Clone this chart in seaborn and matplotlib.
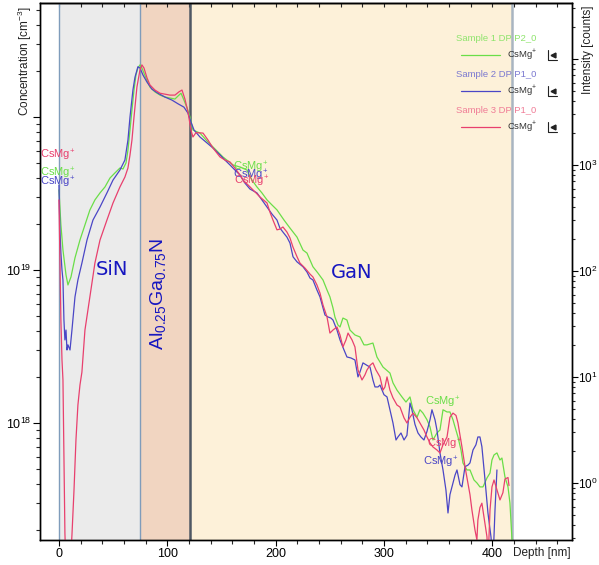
import matplotlib
matplotlib.use("Agg")
import matplotlib.pyplot as plt
import seaborn as sns
import pandas as pd
import math
from matplotlib.lines import Line2D
from matplotlib.ticker import FixedLocator, LogLocator, FuncFormatter, NullFormatter

sns.set_theme(style="white")
plt.rcParams['font.family'] = ['Liberation Sans', 'DejaVu Sans']
plt.rcParams['mathtext.fontset'] = 'custom'
plt.rcParams['mathtext.rm'] = 'Liberation Sans'
plt.rcParams['mathtext.it'] = 'Liberation Sans:italic'
plt.rcParams['mathtext.bf'] = 'Liberation Sans:bold'

# ---------------- data ----------------
sample_names = ["Sample 1 DP P2_0", "Sample 2 DP P1_0", "Sample 3 DP P1_0"]
species = "CsMg$^{+}$"

depth_s1 = [0, 1.8, 3.7, 6.5, 8.3, 11.1, 14.8, 19.4, 24.0, 28.6,
            33.2, 37.9, 42.5, 47.1, 51.7, 56.3, 59.1, 61.9, 63.7, 65.6,
            67.4, 69.3, 71.1, 72.9, 74.8, 76.6, 80.3, 84.0, 88.6, 93.3,
            97.9, 102.5, 107.1, 109.9, 112.7, 115.4, 118.2, 121.0, 123.7, 130.2,
            136.7, 142.2, 151.4, 160.7, 167.1, 173.6, 178.2, 182.8, 187.4, 192.1,
            196.7, 201.3, 207.8, 213.3, 219.8, 225.3, 229.0, 234.5, 239.1, 243.8,
            247.5, 250.2, 253.0, 254.8, 257.6, 259.5, 262.2, 265.9, 268.7, 273.3,
            277.9, 281.6, 284.4, 289.9, 293.6, 299.2, 305.6, 308.4, 312.1, 316.7,
            320.4, 324.1, 326.9, 330.6, 333.3, 336.1, 339.8, 342.6, 345.3, 349.0,
            351.8, 354.6, 358.3, 361.0, 363.8, 365.7, 368.4, 371.2, 373.0, 376.7,
            379.5, 383.2, 386.0, 388.7, 391.5, 395.2, 398.0, 399.8, 401.7, 404.4,
            407.2, 409.0, 411.8, 414.6, 416.4, 418.3, 419.2]
conc_s1 = [3.34e19, 1.97e19, 1.35e19, 9.3e18, 7.98e18, 9.0e18, 1.20e19, 1.57e19, 1.97e19, 2.47e19,
           2.87e19, 3.19e19, 3.49e19, 3.99e19, 4.31e19, 4.64e19, 4.57e19, 5.0e19, 6.08e19, 8.22e19,
           1.11e20, 1.50e20, 1.88e20, 2.09e20, 2.19e20, 2.09e20, 1.80e20, 1.57e20, 1.46e20, 1.39e20,
           1.35e20, 1.33e20, 1.31e20, 1.37e20, 1.43e20, 1.29e20, 1.15e20, 1.0e20, 8.22e19, 7.85e19,
           6.97e19, 6.37e19, 5.48e19, 4.86e19, 4.71e19, 4.50e19, 3.87e19, 3.49e19, 3.19e19, 2.87e19,
           2.66e19, 2.47e19, 2.12e19, 1.88e19, 1.64e19, 1.35e19, 1.29e19, 1.05e19, 9.55e18, 8.6e18,
           7.4e18, 6.67e18, 5.65e18, 4.93e18, 4.37e18, 4.24e18, 4.85e18, 4.71e18, 4.05e18, 3.76e18,
           3.65e18, 3.24e18, 3.24e18, 3.33e18, 2.70e18, 2.32e18, 2.12e18, 1.83e18, 1.64e18, 1.48e18,
           1.37e18, 1.48e18, 1.22e18, 1.09e18, 1.22e18, 1.16e18, 1.05e18, 9.42e17, 7.74e17, 8.6e17,
           9.0e17, 1.22e18, 1.18e18, 1.18e18, 1.05e18, 9.42e17, 8.1e17, 6.66e17, 5.48e17, 4.93e17,
           4.93e17, 4.24e17, 4.05e17, 3.82e17, 3.82e17, 4.37e17, 4.71e17, 5.73e17, 6.18e17, 6.37e17,
           5.73e17, 5.9e17, 4.44e17, 3.82e17, 3.0e17, 1.72e17, 1.2e17]

depth_s2 = [0, 0.9, 1.8, 2.8, 3.7, 4.6, 5.5, 6.5, 7.4, 8.3,
            10.2, 12.0, 14.8, 17.5, 21.2, 25.9, 31.4, 37.9, 44.3, 49.9,
            56.3, 60.9, 63.7, 65.6, 68.3, 70.2, 72.9, 74.8, 77.6, 81.3,
            85.9, 91.4, 97.9, 104.3, 109.9, 115.4, 119.1, 121.9, 124.7, 130.2,
            136.7, 142.2, 148.7, 153.3, 157.9, 162.5, 167.1, 171.7, 176.4, 182.8,
            187.4, 192.1, 196.7, 201.3, 204.0, 206.8, 210.5, 213.3, 216.1, 219.8,
            222.5, 225.3, 229.0, 231.8, 234.5, 238.2, 241.0, 243.8, 245.6, 248.4,
            251.1, 253.0, 256.7, 259.5, 263.2, 265.9, 269.6, 273.3, 276.1, 277.9,
            280.7, 284.4, 287.2, 289.9, 291.8, 294.6, 296.4, 300.1, 302.9, 305.6,
            308.4, 311.2, 313.0, 315.8, 318.6, 321.3, 324.1, 325.9, 328.7, 331.5,
            334.2, 337.0, 339.8, 342.6, 344.4, 347.2, 349.0, 351.8, 354.6, 357.3,
            359.2, 361.0, 362.9, 365.7, 367.5, 370.3, 372.1, 374.9, 377.6, 379.5,
            382.3, 385.0, 386.8, 388.7, 390.5, 393.4, 396.1, 398.9, 400.7, 402.6,
            404.4]
conc_s2 = [3.59e19, 1.83e19, 1.29e19, 1.0e19, 8.6e18, 4.71e18, 3.49e18, 4.05e18, 3.0e18, 3.24e18,
           3.0e18, 4.05e18, 6.67e18, 8.6e18, 1.11e19, 1.57e19, 2.12e19, 2.58e19, 3.19e19, 3.87e19,
           4.50e19, 5.23e19, 7.07e19, 1.0e20, 1.50e20, 1.82e20, 2.13e20, 2.09e20, 1.88e20, 1.69e20,
           1.52e20, 1.43e20, 1.35e20, 1.29e20, 1.22e20, 1.16e20, 1.06e20, 9.27e19, 8.22e19, 7.40e19,
           6.76e19, 6.27e19, 5.65e19, 5.23e19, 4.86e19, 4.50e19, 4.18e19, 3.70e19, 3.38e19, 3.19e19,
           2.87e19, 2.58e19, 2.32e19, 2.12e19, 1.88e19, 1.77e19, 1.64e19, 1.50e19, 1.22e19, 1.13e19,
           1.09e19, 1.05e19, 9.7e18, 8.86e18, 8.6e18, 7.4e18, 6.67e18, 5.65e18, 5.08e18, 4.93e18,
           4.85e18, 4.71e18, 4.05e18, 3.49e18, 3.0e18, 2.70e18, 2.66e18, 2.58e18, 2.0e18, 2.15e18,
           2.47e18, 2.38e18, 2.32e18, 1.91e18, 1.72e18, 1.72e18, 1.77e18, 1.53e18, 1.48e18, 1.22e18,
           1.0e18, 7.74e17, 8.1e17, 8.6e17, 7.74e17, 8.3e17, 1.35e18, 1.22e18, 9.8e17, 8.6e17,
           8.1e17, 7.74e17, 8.8e17, 1.05e18, 1.22e18, 1.05e18, 9.0e17, 6.37e17, 4.93e17, 3.65e17,
           2.58e17, 3.4e17, 3.82e17, 4.56e17, 4.93e17, 3.95e17, 3.82e17, 5.18e17, 5.3e17, 5.48e17,
           6.66e17, 7.2e17, 8.1e17, 8.1e17, 7.0e17, 4.24e17, 2.58e17, 1.8e17, 1.2e17, 2.70e17,
           4.93e17]

depth_s3 = [0, 0.9, 1.8, 2.8, 3.7, 4.6, 5.5, 6.5, 10.2, 12.0,
            13.9, 15.7, 17.5, 19.4, 21.2, 24.0, 28.6, 33.2, 37.9, 44.3,
            49.9, 56.3, 60.9, 63.7, 65.6, 67.4, 69.3, 72.0, 74.8, 76.6,
            78.5, 81.3, 84.0, 88.6, 93.3, 97.9, 102.5, 107.1, 110.8, 113.6,
            116.3, 119.1, 121.9, 123.7, 126.5, 133.0, 137.6, 142.2, 148.7, 153.3,
            157.9, 162.5, 167.1, 169.9, 174.5, 181.0, 185.6, 192.1, 194.8, 197.6,
            201.3, 204.0, 206.8, 210.5, 213.3, 216.1, 219.8, 222.5, 227.1, 231.8,
            234.5, 238.2, 241.0, 243.8, 247.5, 250.2, 253.0, 256.7, 259.5, 262.2,
            265.0, 266.9, 270.6, 273.3, 276.1, 279.8, 282.5, 284.4, 287.2, 289.9,
            292.7, 296.4, 299.2, 301.0, 302.9, 305.6, 308.4, 312.1, 314.9, 318.6,
            321.3, 324.1, 326.9, 330.6, 333.3, 337.0, 339.8, 342.6, 345.3, 349.0,
            351.8, 354.6, 358.3, 361.0, 363.8, 366.6, 368.4, 370.3, 372.1, 374.9,
            377.6, 379.5, 381.3, 384.1, 385.9, 386.8, 388.7, 390.5, 393.4, 395.2,
            396.1, 398.0, 399.8, 401.7, 404.4, 407.2, 409.9, 411.8, 414.6, 415.5]
conc_s3 = [2.87e19, 1.16e19, 4.71e18, 2.58e18, 1.91e18, 5.73e17, 1.91e17, 1.1e17, 1.1e17, 1.85e17,
           3.65e17, 7.74e17, 1.31e18, 1.77e18, 2.15e18, 4.05e18, 6.67e18, 1.11e19, 1.57e19, 2.12e19,
           2.74e19, 3.49e19, 4.05e19, 4.64e19, 5.65e19, 7.07e19, 1.0e20, 1.57e20, 2.03e20, 2.19e20,
           2.09e20, 1.80e20, 1.62e20, 1.50e20, 1.43e20, 1.41e20, 1.39e20, 1.39e20, 1.46e20, 1.50e20,
           1.31e20, 1.08e20, 8.22e19, 7.40e19, 7.9e19, 7.85e19, 7.07e19, 6.27e19, 5.48e19, 5.23e19,
           5.08e19, 4.64e19, 4.18e19, 3.87e19, 3.60e19, 3.24e19, 3.0e19, 2.74e19, 2.39e19, 2.12e19,
           1.83e19, 1.85e19, 1.91e19, 1.77e19, 1.62e19, 1.41e19, 1.22e19, 1.11e19, 1.03e19, 9.4e18,
           9.0e18, 7.98e18, 7.07e18, 5.9e18, 4.93e18, 3.87e18, 4.05e18, 4.24e18, 3.76e18, 3.14e18,
           3.49e18, 3.87e18, 3.49e18, 3.14e18, 2.22e18, 1.91e18, 2.06e18, 2.22e18, 2.38e18, 2.47e18,
           2.22e18, 2.0e18, 1.64e18, 1.72e18, 2.0e18, 1.64e18, 1.46e18, 1.31e18, 1.27e18, 1.08e18,
           1.0e18, 1.09e18, 1.16e18, 1.08e18, 1.0e18, 9.0e17, 8.1e17, 7.4e17, 6.97e17, 6.66e17,
           6.37e17, 7.2e17, 8.1e17, 1.09e18, 1.16e18, 1.12e18, 1.0e18, 8.3e17, 6.97e17, 5.18e17,
           4.05e17, 3.4e17, 2.7e17, 2.0e17, 1.72e17, 2.32e17, 2.8e17, 2.99e17, 2.2e17, 1.8e17,
           1.2e17, 2.7e17, 3.82e17, 4.24e17, 3.65e17, 3.14e17, 3.5e17, 4.3e17, 4.4e17, 3.9e17]

layer_names = ["SiN", "Al$_{0.25}$Ga$_{0.75}$N", "GaN"]
layer_edges = [0, 74.8, 121.0, 418.3]
x_major = [0, 100, 200, 300, 400]

# ---------------- styling ----------------
line_colors = ["#6ade48", "#4a46c6", "#e8406e"]
text_colors = ["#8ee46c", "#7a78d0", "#f07c96"]
layer_colors = ["#ebebeb", "#f1d5c1", "#fdf1d9"]
label_blue = "#1616c0"

W, H = 599, 565
def fx(px):
    return px / W
def fy(py):
    return 1 - py / H

def pow10_label(v, p, limit):
    if v >= limit:
        return ""
    return "$10^{%d}$" % round(math.log10(v))

fig = plt.figure(figsize=(W / 100, H / 100), dpi=100)
fig.patch.set_facecolor("white")
ax = fig.add_axes([fx(40), fy(540), (572 - 40) / W, (540 - 3) / H])
ax.set_facecolor("white")
ax.set_yscale("log")

# layer backgrounds
for i in range(3):
    ax.axvspan(layer_edges[i], layer_edges[i + 1], color=layer_colors[i], zorder=0, lw=0)
ax.axvline(layer_edges[0], color="#7f9cbb", lw=1.0, zorder=1)
ax.axvline(layer_edges[1], color="#7f9cbb", lw=1.0, zorder=1)
ax.axvline(layer_edges[2], color="#4f5864", lw=1.8, zorder=1)
ax.axvline(layer_edges[3], color="#a9b5c1", lw=1.8, zorder=1)

# data
frames = []
for name, d, c in zip(sample_names, [depth_s1, depth_s2, depth_s3], [conc_s1, conc_s2, conc_s3]):
    frames.append(pd.DataFrame({"depth": d, "conc": c, "sample": name}))
df = pd.concat(frames, ignore_index=True)
sns.lineplot(data=df, x="depth", y="conc", hue="sample", hue_order=sample_names,
             palette=dict(zip(sample_names, line_colors)), estimator=None, sort=False,
             linewidth=0.9, legend=False, ax=ax, zorder=3)

ax.set_xlim(-17.5, 473.7)
ax.set_ylim(1.718e17, 5.56e20)
ax.set_xlabel("")
ax.set_ylabel("")

# ticks
ax.xaxis.set_major_locator(FixedLocator(x_major))
ax.xaxis.set_minor_locator(FixedLocator(list(range(0, 461, 20))))
ax.xaxis.set_minor_formatter(NullFormatter())
ax.yaxis.set_major_locator(FixedLocator([1e18, 1e19, 1e20]))
ax.yaxis.set_major_formatter(FuncFormatter(lambda v, p: pow10_label(v, p, 1e20)))
ax.yaxis.set_minor_locator(LogLocator(base=10, subs=range(2, 10), numticks=20))
ax.yaxis.set_minor_formatter(NullFormatter())
ax.tick_params(axis="x", which="major", direction="out", length=4, width=0.8,
               labelsize=9, pad=2, colors="black", bottom=True)
ax.tick_params(axis="x", which="minor", direction="out", length=3, width=0.8, bottom=True)
ax.tick_params(axis="y", which="major", direction="out", length=5, width=0.8,
               labelsize=9, pad=1, colors="black", left=True)
ax.tick_params(axis="y", which="minor", direction="out", length=3, width=0.8, left=True)
for s in ax.spines.values():
    s.set_color("black")
    s.set_linewidth(1.0)

# top ticks (inward)
top = ax.secondary_xaxis("top")
top.xaxis.set_major_locator(FixedLocator(list(range(0, 461, 20))))
top.tick_params(axis="x", direction="in", length=3, width=0.8, labeltop=False)
top.spines["top"].set_linewidth(1.0)

# right axis
ax2 = ax.twinx()
ax2.set_yscale("log")
ax2.set_ylim(0.29, 3.38e4)
ax2.yaxis.set_major_locator(FixedLocator([1, 10, 100, 1000, 10000]))
ax2.yaxis.set_major_formatter(FuncFormatter(lambda v, p: pow10_label(v, p, 1e4)))
ax2.yaxis.set_minor_locator(LogLocator(base=10, subs=range(2, 10), numticks=20))
ax2.yaxis.set_minor_formatter(NullFormatter())
ax2.tick_params(axis="y", which="major", direction="out", length=4, width=0.8,
                labelsize=8.5, pad=0.5, colors="black", right=True)
ax2.tick_params(axis="y", which="minor", direction="out", length=2.5, width=0.8, right=True)
ax2.grid(False)
for s in ax2.spines.values():
    s.set_color("black")
    s.set_linewidth(1.0)

# axis titles
fig.text(fx(25), fy(6), "Concentration [cm$^{-3}$]", rotation=90, ha="center", va="top",
         fontsize=8.5, color="#222222")
fig.text(fx(588), fy(5), "Intensity [counts]", rotation=90, ha="center", va="top",
         fontsize=8.5, color="#222222")
fig.text(fx(513), fy(553), "Depth [nm]", ha="left", va="center", fontsize=8.5, color="#222222")

# layer labels
ax.text(49, 1.0e19, layer_names[0], color=label_blue, fontsize=14, ha="center", va="center",
        family="DejaVu Sans", zorder=4)
ax.text(91, 7.0e18, layer_names[1], color=label_blue, fontsize=14, ha="center", va="center",
        rotation=90, zorder=4)
ax.text(270.5, 9.7e18, layer_names[2], color=label_blue, fontsize=14, ha="center", va="center",
        family="DejaVu Sans", zorder=4)

# species labels next to curves
label_pos = [
    [(-17.3, 4.3e19), (160.7, 4.7e19), (338.0, 1.37e18)],
    [(-17.3, 3.71e19), (160.7, 4.15e19), (336.0, 5.56e17)],
    [(-17.3, 5.65e19), (161.5, 3.8e19), (340.0, 7.2e17)],
]
for col, poslist in zip(line_colors, label_pos):
    for (xx, yy) in poslist:
        ax.text(xx, yy, species, color=col, fontsize=8, ha="left", va="center", zorder=5)

# custom legend
for i, (name, lc, tc) in enumerate(zip(sample_names, line_colors, text_colors)):
    ty = 38.5 + 36 * i
    ly = 54.5 + 36 * i
    fig.text(fx(456), fy(ty), name, color=tc, fontsize=6.8, ha="left", va="center")
    fig.add_artist(Line2D([fx(461), fx(500)], [fy(ly), fy(ly)], color=lc, lw=0.9))
    fig.text(fx(507), fy(ly), species, color="#333333", fontsize=6.8, ha="left", va="center")
    fig.add_artist(Line2D([fx(548), fx(548), fx(557)], [fy(ly - 5), fy(ly + 5), fy(ly + 5)],
                          color="#222222", lw=0.8))
    fig.add_artist(Line2D([fx(553)], [fy(ly)], marker="<", markersize=3.5, color="#222222", lw=0))

fig.savefig("out.png", dpi=100, facecolor="white")
